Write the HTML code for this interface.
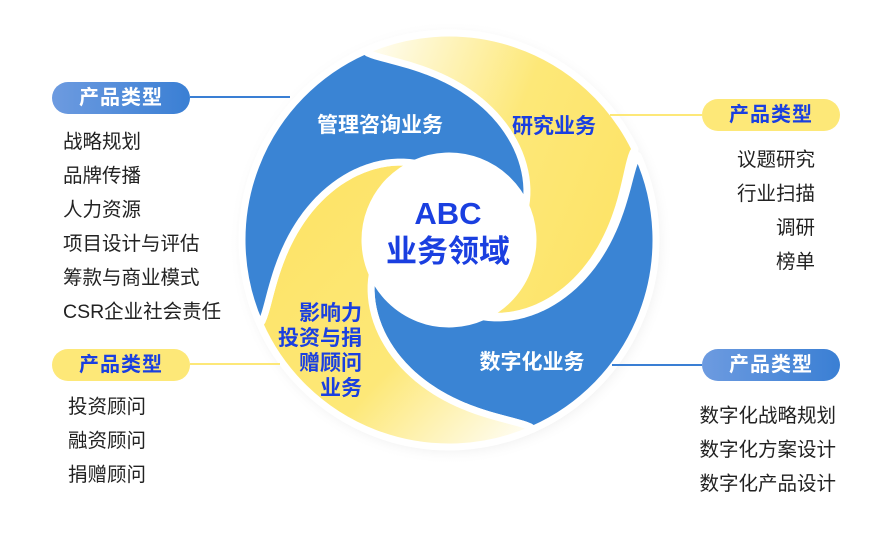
<!DOCTYPE html>
<html><head><meta charset="utf-8"><style>
body{margin:0;width:889px;height:554px;background:#fff;overflow:hidden;position:relative;font-family:"Liberation Sans","Noto Sans CJK SC",sans-serif}
.pill{position:absolute;width:138px;height:32px;border-radius:16px;font-size:20px;font-weight:bold;line-height:32px;text-align:center;letter-spacing:1px}
.b{background:linear-gradient(90deg,#6d9be0,#3a7fd4);color:#fff}
.y{background:#fde878;color:#1a3fe0}
.list{position:absolute;font-size:19.5px;color:#222;line-height:34px}
.line{position:absolute;height:2px}
svg{position:absolute;left:0;top:0}
</style></head><body>
<svg width="889" height="554" id="s">
<defs>
<linearGradient id="gy1" x1="0" y1="0" x2="1" y2="0.4"><stop offset="0" stop-color="#fff"/><stop offset="0.6" stop-color="#fde878"/><stop offset="1" stop-color="#fde46a"/></linearGradient>
<linearGradient id="gy2" x1="0.2" y1="0.2" x2="1" y2="1"><stop offset="0" stop-color="#fde46a"/><stop offset="0.5" stop-color="#fde878"/><stop offset="1" stop-color="#fff"/></linearGradient>
<radialGradient id="sh" cx="0.5" cy="0.5" r="0.5"><stop offset="0.9" stop-color="#ddd"/><stop offset="1" stop-color="#fff" stop-opacity="0"/></radialGradient>
</defs>
<circle cx="451" cy="243" r="222" fill="url(#sh)" opacity="0.6"/>
<circle cx="449" cy="240" r="209" fill="#fff"/>
<g id="blades"></g>
<text x="448" y="224" text-anchor="middle" font-size="31" font-weight="bold" fill="#1a3fe0" font-family="Liberation Sans,sans-serif">ABC</text>
<text x="448" y="262" text-anchor="middle" font-size="31" font-weight="bold" fill="#1a3fe0" font-family="Liberation Sans,Noto Sans CJK SC,sans-serif">业务领域</text>
<text x="380" y="132" text-anchor="middle" font-size="21" font-weight="bold" fill="#fff" font-family="Liberation Sans,Noto Sans CJK SC,sans-serif">管理咨询业务</text>
<text x="554" y="133" text-anchor="middle" font-size="21" font-weight="bold" fill="#1a3fe0" font-family="Liberation Sans,Noto Sans CJK SC,sans-serif">研究业务</text>
<text x="532" y="369" text-anchor="middle" font-size="21" font-weight="bold" fill="#fff" font-family="Liberation Sans,Noto Sans CJK SC,sans-serif">数字化业务</text>
<g font-size="21" font-weight="bold" fill="#1a3fe0" text-anchor="end" font-family="Liberation Sans,Noto Sans CJK SC,sans-serif">
<text x="362" y="320">影响力</text><text x="362" y="345">投资与捐</text><text x="362" y="370">赠顾问</text><text x="362" y="395">业务</text></g>
</svg>
<div class="line" style="left:190px;top:96px;width:100px;background:#3a7fd4"></div>
<div class="line" style="left:190px;top:363px;width:90px;background:#fde878"></div>
<div class="line" style="left:610px;top:114px;width:92px;background:#fde878"></div>
<div class="line" style="left:612px;top:364px;width:90px;background:#3a7fd4"></div>
<div class="pill b" style="left:52px;top:82px">产品类型</div>
<div class="pill y" style="left:52px;top:349px">产品类型</div>
<div class="pill y" style="left:702px;top:99px">产品类型</div>
<div class="pill b" style="left:702px;top:349px">产品类型</div>
<div class="list" style="left:63px;top:125px">战略规划<br>品牌传播<br>人力资源<br>项目设计与评估<br>筹款与商业模式<br>CSR企业社会责任</div>
<div class="list" style="left:68px;top:390px">投资顾问<br>融资顾问<br>捐赠顾问</div>
<div class="list" style="right:74px;top:143px;text-align:right">议题研究<br>行业扫描<br>调研<br>榜单</div>
<div class="list" style="right:53px;top:399px;text-align:right">数字化战略规划<br>数字化方案设计<br>数字化产品设计</div>
<script>
(function(){
var cx=449,cy=240,R=207,r0=84,N=40;
function sp(a0){var pts=[];for(var i=0;i<=N;i++){var t=i/N;var r=R-(R-r0)*t;var a=(a0+90*Math.pow(t,1.4))*Math.PI/180;pts.push([cx+r*Math.cos(a),cy+r*Math.sin(a)]);}return pts;}
var blades=[[244,'url(#gy1)'],[336,'#3a84d4'],[66,'url(#gy2)'],[156,'#3a84d4']];
var g=document.getElementById('blades'),h='';
blades.forEach(function(b){
 var a=b[0],s1=sp(a),s2=sp(a+90);
 var d='M'+s1[0].join(',');
 var e=(a+90)*Math.PI/180;
 d+=' A'+R+','+R+' 0 0 1 '+(cx+R*Math.cos(e))+','+(cy+R*Math.sin(e));
 for(var i=1;i<=N;i++)d+=' L'+s2[i].join(',');
 d+=' A'+r0+','+r0+' 0 0 0 '+s1[N].join(',');
 for(var i=N-1;i>=0;i--)d+=' L'+s1[i].join(',');
 d+='Z';
 h+='<path d="'+d+'" fill="'+b[1]+'" stroke="#fff" stroke-width="7" stroke-linejoin="round"/>';
});
g.innerHTML=h;
})();
</script>
</body></html>
